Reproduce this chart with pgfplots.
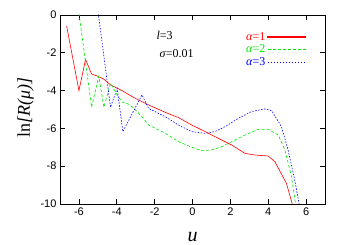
\documentclass[border=0pt]{standalone}
\usepackage{pgfplots}
\pgfplotsset{compat=1.18}
\usepackage{fontspec}
\setmainfont{Liberation Serif}
\setsansfont{Liberation Sans}
\definecolor{gnured}{RGB}{255,0,0}
\definecolor{gnugreen}{RGB}{0,230,0}
\definecolor{gnublue}{RGB}{0,0,255}
\begin{document}
\begin{tikzpicture}
\path[use as bounding box] (0pt,0pt) rectangle (350pt,245pt);
\begin{axis}[
  at={(60pt,41pt)}, anchor=south west,
  scale only axis, width=265pt, height=189pt,
  xmin=-7, xmax=7, ymin=-10, ymax=0,
  xtick={-6,-4,-2,0,2,4,6},
  xticklabels={-6,-4,-2,0,2,4,6},
  ytick={-10,-8,-6,-4,-2,0},
  yticklabels={-10,-8,-6,-4,-2,0},
  tick align=inside,
  major tick length=5pt,
  axis line style={line width=0.8pt},
  tick style={line width=0.6pt, black},
  ticklabel style={font=\sffamily\fontsize{11}{12}\selectfont},
  xlabel={\itshape u},
  xlabel style={font=\fontsize{20}{22}\selectfont, yshift=-10pt},
  ylabel={ln\textit{[R(μ)]}},
  ylabel style={font=\fontsize{18}{20}\selectfont, xshift=2pt},
  legend style={draw=none, fill=none, at={(rel axis cs:0.94,0.93)}, anchor=north east,
    font=\fontsize{12}{13}\selectfont, row sep=-1pt},
  legend cell align=right,
  legend plot pos=right,
  legend image code/.code={\draw[#1] (0pt,0pt) -- (38pt,0pt);},
]
\addplot[color=gnured, line width=0.6pt,
  legend image code/.code={\fill[gnured] (0pt,-0.45pt) rectangle (38pt,0.45pt);}] coordinates {
(-6.65,-0.58) (-6.0,-4.0) (-5.65,-2.35) (-5.33,-3.12) (-5.03,-3.23)
(-4.68,-3.40) (-4.33,-3.70) (-3.72,-4.0) (-3.19,-4.32) (-2.32,-4.76)
(-1.44,-5.15) (-0.74,-5.43) (-0.04,-5.82) (0.67,-6.17) (1.37,-6.53)
(2.07,-6.88) (2.77,-7.32) (3.3,-7.41) (4.0,-7.46) (4.35,-7.76)
(4.96,-8.9) (5.3,-10.1)};
\addlegendentry[text=gnured]{\textit{α}=1}
\addplot[color=gnugreen, line width=0.6pt, dash pattern=on 3pt off 2pt] coordinates {
(-6.0,0.1) (-5.33,-4.88) (-4.95,-3.23) (-4.68,-4.88) (-4.33,-3.61)
(-3.98,-4.23) (-3.72,-4.6) (-3.37,-4.72) (-3.19,-4.85) (-2.67,-5.38)
(-2.32,-5.82) (-1.79,-6.08) (-1.44,-6.26) (-0.74,-6.7) (-0.04,-7.0)
(0.49,-7.18) (1.02,-7.14) (1.54,-6.97) (2.07,-6.7) (2.77,-6.35)
(3.47,-6.05) (4.0,-6.05) (4.53,-6.35) (4.88,-7.14) (5.23,-8.55) (5.46,-10.1)};
\addlegendentry[text=gnugreen]{\textit{α}=2}
\addplot[color=gnublue, line width=0.6pt, dash pattern=on 1.5pt off 1.5pt] coordinates {
(-4.98,0.1) (-4.33,-4.88) (-3.98,-3.88) (-3.68,-6.17) (-2.67,-4.23)
(-2.32,-4.94) (-1.44,-5.38) (-0.74,-5.82) (-0.04,-6.17) (0.67,-6.26)
(1.19,-6.17) (1.72,-5.91) (2.42,-5.47) (3.12,-5.11) (3.82,-4.97)
(4.18,-5.06) (4.70,-5.91) (5.05,-7.14) (5.4,-8.73) (5.65,-10.1)};
\addlegendentry[text=gnublue]{\textit{α}=3}
\node[font=\fontsize{12}{13}\selectfont] at (axis cs:-1.47,-1.06) {\textit{l}=3};
\node[font=\fontsize{12}{13}\selectfont] at (axis cs:-0.84,-2.06) {\textit{σ}=0.01};
\end{axis}
\end{tikzpicture}
\end{document}
